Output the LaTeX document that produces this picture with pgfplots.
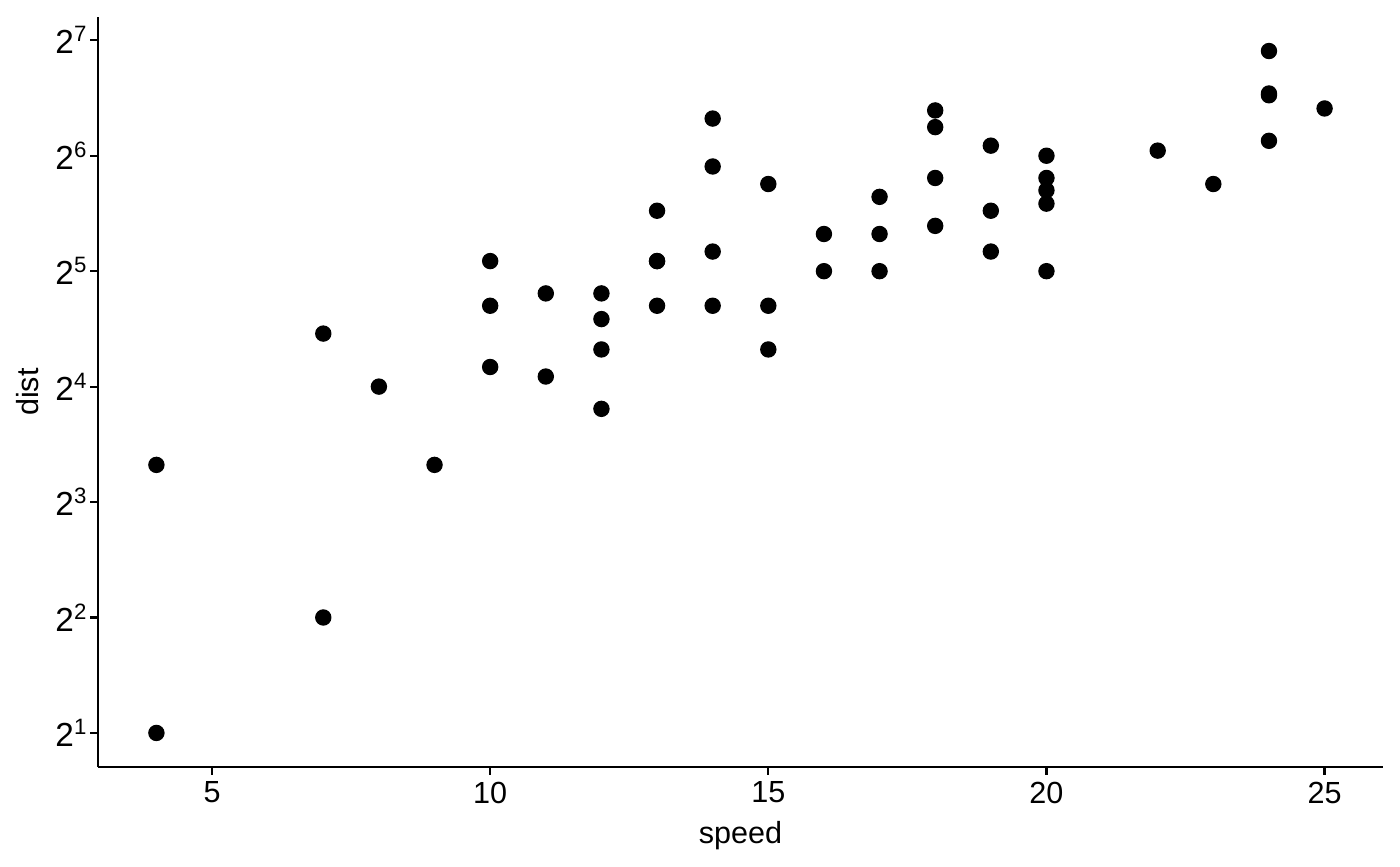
\documentclass[border=0pt]{standalone}
\usepackage{pgfplots}
\pgfplotsset{compat=1.18}
\usepackage{fontspec}
\setmainfont{Liberation Sans}
\begin{document}
\begin{tikzpicture}
\path[use as bounding box] (-35.28pt,-35.64pt) rectangle (468.72pt,276.12pt);
\begin{axis}[
  at={(0,0)}, anchor=south west,
  scale only axis, width=462.6pt, height=270pt,
  xmin=2.95, xmax=26.05,
  ymode=log, log basis y=2, ymin=1.630, ymax=147.2,
  axis lines=left, axis line style={-, line width=0.8pt, black},
  tick align=outside, major tick length=2.75pt,
  tick style={line width=0.8pt, black},
  xtick={5,10,15,20,25}, xticklabels={5,10,15,20,25},
  ytick={2,4,8,16,32,64,128},
  yticklabels={2\textsuperscript{1},2\textsuperscript{2},2\textsuperscript{3},2\textsuperscript{4},2\textsuperscript{5},2\textsuperscript{6},2\textsuperscript{7}},
  minor tick num=0, yminorticks=false,
  ticklabel style={font=\fontsize{11}{13}\selectfont, text=black},
  xticklabel style={yshift=1pt},
  yticklabel style={xshift=2.6pt, font=\fontsize{12}{14}\selectfont},
  xlabel={speed}, ylabel={dist},
  label style={font=\fontsize{11}{13}\selectfont},
  xlabel style={at={(axis description cs:0.5,0)}, anchor=base, yshift=-27.4pt},
  ylabel style={at={(axis description cs:0,0.5)}, anchor=base, yshift=21.6pt},
  clip=false,
]
\addplot[only marks, mark=*, mark size=2.75pt, black] coordinates {
(4,2) (4,10) (7,4) (7,22) (8,16) (9,10) (10,18) (10,26) (10,34) (11,17)
(11,28) (12,14) (12,20) (12,24) (12,28) (13,26) (13,34) (13,34) (13,46) (14,26)
(14,36) (14,60) (14,80) (15,20) (15,26) (15,54) (16,32) (16,40) (17,32) (17,40)
(17,50) (18,42) (18,56) (18,76) (18,84) (19,36) (19,46) (19,68) (20,32) (20,48)
(20,52) (20,56) (20,64) (22,66) (23,54) (24,70) (24,92) (24,93) (24,120) (25,85)
};
\end{axis}
\end{tikzpicture}
\end{document}
